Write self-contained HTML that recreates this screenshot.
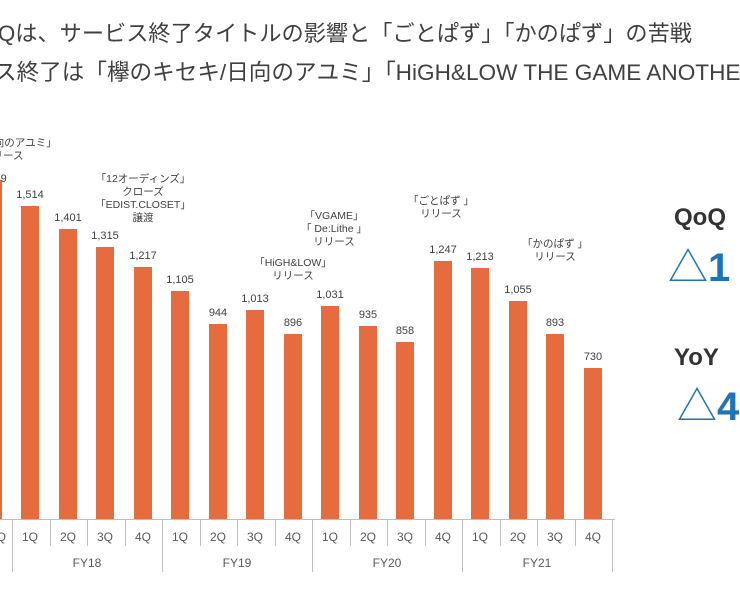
<!DOCTYPE html>
<html><head><meta charset="utf-8"><style>
body{margin:0;width:740px;height:600px;overflow:hidden;background:#fff;font-family:"Liberation Sans","Noto Sans CJK JP",sans-serif;}
</style></head><body>
<svg width="740" height="600" xmlns="http://www.w3.org/2000/svg" style="font-family:'Liberation Sans','Noto Sans CJK JP',sans-serif">
<text x="-2" y="41" font-size="22.2" fill="#404040">Qは、サービス終了タイトルの影響と「ごとぱず」「かのぱず」の苦戦</text>
<text x="-6" y="80" font-size="22.6" fill="#404040">ス終了は「欅のキセキ/日向のアユミ」「HiGH&amp;LOW THE GAME ANOTHER</text>
<g fill="#E66C3F">
<rect x="-16" y="180" width="18" height="339"/>
<rect x="21" y="206" width="18" height="313"/>
<rect x="59" y="229" width="18" height="290"/>
<rect x="96" y="247" width="18" height="272"/>
<rect x="134" y="267" width="18" height="252"/>
<rect x="171" y="291" width="18" height="228"/>
<rect x="209" y="324" width="18" height="195"/>
<rect x="246" y="310" width="18" height="209"/>
<rect x="284" y="334" width="18" height="185"/>
<rect x="321" y="306" width="18" height="213"/>
<rect x="359" y="326" width="18" height="193"/>
<rect x="396" y="342" width="18" height="177"/>
<rect x="434" y="261" width="18" height="258"/>
<rect x="471" y="268" width="18" height="251"/>
<rect x="509" y="301" width="18" height="218"/>
<rect x="546" y="334" width="18" height="185"/>
<rect x="584" y="368" width="18" height="151"/>
</g>
<g font-size="11" fill="#404040" text-anchor="middle">
<text x="-7" y="182">1,639</text>
<text x="30" y="198">1,514</text><text x="68" y="221">1,401</text><text x="105" y="239">1,315</text><text x="143" y="259">1,217</text>
<text x="180" y="283">1,105</text><text x="218" y="316">944</text><text x="255" y="302">1,013</text><text x="293" y="326">896</text>
<text x="330" y="298">1,031</text><text x="368" y="318">935</text><text x="405" y="334">858</text><text x="443" y="253">1,247</text>
<text x="480" y="260">1,213</text><text x="518" y="293">1,055</text><text x="555" y="326">893</text><text x="593" y="360">730</text>
</g>
<g font-size="10.5" fill="#404040" text-anchor="middle">
<text x="20" y="146">日向のアユミ」</text><text x="8" y="159">リース</text>
<text x="143" y="182">「12オーディンズ」</text><text x="143" y="195">クローズ</text><text x="143" y="208">「EDIST.CLOSET」</text><text x="143" y="221">譲渡</text>
<text x="334" y="219">「VGAME」</text><text x="334" y="232">「 De:Lithe 」</text><text x="334" y="245">リリース</text>
<text x="293" y="266">「HiGH&amp;LOW」</text><text x="293" y="279">リリース</text>
<text x="441" y="204">「ごとぱず 」</text><text x="441" y="217">リリース</text>
<text x="555" y="247">「かのぱず 」</text><text x="555" y="260">リリース</text>
</g>
<g stroke="#BFBFBF" stroke-width="1">
<line x1="0" y1="519.5" x2="615" y2="519.5"/>
<line x1="12.5" y1="519" x2="12.5" y2="572"/><line x1="50.5" y1="519" x2="50.5" y2="546"/><line x1="87.5" y1="519" x2="87.5" y2="546"/><line x1="125.5" y1="519" x2="125.5" y2="546"/>
<line x1="162.5" y1="519" x2="162.5" y2="572"/><line x1="200.5" y1="519" x2="200.5" y2="546"/><line x1="237.5" y1="519" x2="237.5" y2="546"/><line x1="275.5" y1="519" x2="275.5" y2="546"/>
<line x1="312.5" y1="519" x2="312.5" y2="572"/><line x1="350.5" y1="519" x2="350.5" y2="546"/><line x1="387.5" y1="519" x2="387.5" y2="546"/><line x1="425.5" y1="519" x2="425.5" y2="546"/>
<line x1="462.5" y1="519" x2="462.5" y2="572"/><line x1="500.5" y1="519" x2="500.5" y2="546"/><line x1="537.5" y1="519" x2="537.5" y2="546"/><line x1="575.5" y1="519" x2="575.5" y2="546"/>
<line x1="612.5" y1="519" x2="612.5" y2="572"/>
</g>
<g font-size="12" fill="#595959" text-anchor="middle">
<text x="-2" y="541">4Q</text>
<text x="30" y="541">1Q</text><text x="68" y="541">2Q</text><text x="105" y="541">3Q</text><text x="143" y="541">4Q</text>
<text x="180" y="541">1Q</text><text x="218" y="541">2Q</text><text x="255" y="541">3Q</text><text x="293" y="541">4Q</text>
<text x="330" y="541">1Q</text><text x="368" y="541">2Q</text><text x="405" y="541">3Q</text><text x="443" y="541">4Q</text>
<text x="480" y="541">1Q</text><text x="518" y="541">2Q</text><text x="555" y="541">3Q</text><text x="593" y="541">4Q</text>
<text x="87" y="567">FY18</text><text x="237" y="567">FY19</text><text x="387" y="567">FY20</text><text x="537" y="567">FY21</text>
</g>
<text x="674" y="225" font-size="24" font-weight="bold" fill="#333">QoQ</text>
<text x="668" y="281" font-size="40" fill="#1F73B7">△<tspan font-weight="bold">1</tspan></text>
<text x="674" y="365" font-size="24" font-weight="bold" fill="#333">YoY</text>
<text x="677" y="420" font-size="40" fill="#1F73B7">△<tspan font-weight="bold">4</tspan></text>
</svg>
</body></html>
